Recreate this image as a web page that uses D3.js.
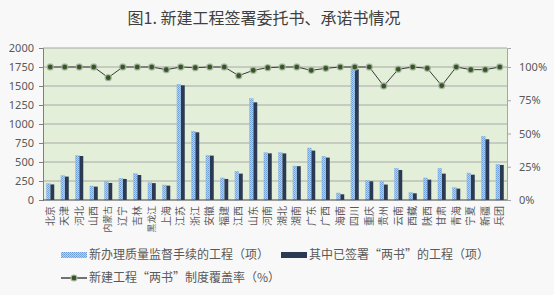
<!DOCTYPE html>
<html><head><meta charset="utf-8">
<script src="https://cdn.jsdelivr.net/npm/d3@7"></script>
<style>
html,body{margin:0;padding:0;background:#f8f8f8;}
svg{display:block;font-family:"Noto Sans CJK SC","Noto Sans",sans-serif;}
</style></head>
<body>
<svg id="chart" width="554" height="295"></svg>
<script>
const categories = ["北京","天津","河北","山西","内蒙古","辽宁","吉林","黑龙江","上海","江苏","浙江","安徽","福建","江西","山东","河南","湖北","湖南","广东","广西","海南","四川","重庆","贵州","云南","西藏","陕西","甘肃","青海","宁夏","新疆","兵团"];
const newProjects = [215,321,584,184,246,286,347,229,197,1522,904,588,290,378,1334,623,623,447,684,575,92,1738,259,242,417,97,290,417,163,355,838,470];
const signedProjects = [205,308,579,176,224,277,329,222,189,1509,891,584,277,347,1285,614,613,445,650,558,75,1720,246,203,395,88,268,347,150,333,799,461];
const coverage = [1.00,1.00,1.00,1.00,0.92,1.00,1.00,1.00,0.98,1.00,0.995,1.00,1.00,0.935,0.975,0.995,1.00,1.00,0.975,0.99,1.00,1.00,1.00,0.857,0.983,1.00,0.99,0.86,1.00,0.98,0.98,1.00];
const leftTicks = [0,250,500,750,1000,1250,1500,1750,2000];
const rightTicks = [0,0.25,0.5,0.75,1.0];
const title = "图1. 新建工程签署委托书、承诺书情况";
const legendLabels = ["新办理质量监督手续的工程（项）","其中已签署“两书”的工程（项）","新建工程“两书”制度覆盖率（%）"];

const svg = d3.select("#chart");
const L = 43, R = 507, T = 48, B = 200;
const x = d3.scaleBand().domain(categories).range([L, R]).padding(0);
const y = d3.scaleLinear().domain([0, 2000]).range([B, T]);
const y2 = d3.scaleLinear().domain([0, 2000/1750]).range([B, T]);
const textColor = "#595959";

// pattern for light bars
const defs = svg.append("defs");
const pat = defs.append("pattern").attr("id","dots").attr("width",2).attr("height",2).attr("patternUnits","userSpaceOnUse");
pat.append("rect").attr("width",2).attr("height",2).attr("fill","#b4d0f0");
pat.append("rect").attr("width",1).attr("height",1).attr("fill","#6f9fd8");
pat.append("rect").attr("x",1).attr("y",1).attr("width",1).attr("height",1).attr("fill","#7eaadf");

// title
svg.append("text").attr("x", 264).attr("y", 24).attr("text-anchor","middle")
  .attr("font-size", 16).attr("fill", "#404040").text(title);

// plot background
svg.append("rect").attr("x", L).attr("y", T).attr("width", R-L).attr("height", B-T).attr("fill", "#e3efd8");

// gridlines
svg.append("g").selectAll("line").data(leftTicks.slice(1)).join("line")
  .attr("x1", L).attr("x2", R).attr("y1", d => y(d)).attr("y2", d => y(d))
  .attr("stroke", "#a8a8a8").attr("stroke-width", 1);

// left axis
const gl = svg.append("g").attr("transform", `translate(${L},0)`)
  .call(d3.axisLeft(y).tickValues(leftTicks).tickFormat(d3.format("d")).tickSize(4).tickPadding(5));
gl.select(".domain").attr("stroke", "#7f7f7f");
gl.selectAll(".tick line").attr("stroke", "#7f7f7f");
gl.selectAll("text").attr("font-size", 11).attr("fill", textColor).attr("font-family","'Noto Sans','DejaVu Sans',sans-serif");

// right axis
const gr = svg.append("g").attr("transform", `translate(${R},0)`)
  .call(d3.axisRight(y2).tickValues(rightTicks).tickFormat(d3.format(".0%")).tickSize(4).tickPadding(8));
gr.select(".domain").attr("stroke", "#a6a6a6");
gr.selectAll(".tick line").attr("stroke", "#a6a6a6");
gr.selectAll("text").attr("font-size", 11).attr("fill", textColor).attr("font-family","'Noto Sans','DejaVu Sans',sans-serif");

// bars
const bw = 3.8;
svg.append("g").selectAll("rect").data(categories).join("rect")
  .attr("x", (d) => x(d) + x.bandwidth()/2 - bw)
  .attr("y", (d,i) => y(newProjects[i]))
  .attr("width", bw)
  .attr("height", (d,i) => B - y(newProjects[i]))
  .attr("fill", "url(#dots)").attr("stroke","#8fb4e0").attr("stroke-width",0.4);
svg.append("g").selectAll("rect").data(categories).join("rect")
  .attr("x", (d) => x(d) + x.bandwidth()/2 + 0.2)
  .attr("y", (d,i) => y(signedProjects[i]))
  .attr("width", bw)
  .attr("height", (d,i) => B - y(signedProjects[i]))
  .attr("fill", "#2b3a52");

// bottom axis
svg.append("line").attr("x1", L).attr("x2", R).attr("y1", B).attr("y2", B).attr("stroke", "#404040").attr("stroke-width", 1);

// x labels
svg.append("g").selectAll("text").data(categories).join("text")
  .attr("transform", d => `translate(${x(d) + x.bandwidth()/2},206) rotate(-90)`)
  .attr("text-anchor", "end").attr("dy", "0.35em")
  .attr("font-size", d => d.length > 2 ? 8.8 : 10)
  .attr("fill", textColor).text(d => d);

// line
const line = d3.line().x((d,i) => x(categories[i]) + x.bandwidth()/2).y(d => y2(d));
svg.append("path").datum(coverage).attr("d", line).attr("fill","none").attr("stroke","#3a3a3a").attr("stroke-width",1);
svg.append("g").selectAll("circle").data(coverage).join("circle")
  .attr("cx", (d,i) => x(categories[i]) + x.bandwidth()/2)
  .attr("cy", d => y2(d)).attr("r", 3)
  .attr("fill", "#2f5a1c").attr("stroke", "#b0b0b0").attr("stroke-opacity",0.8).attr("stroke-width", 1.4);

// legend
const lg = svg.append("g");
lg.append("rect").attr("x", 61).attr("y", 252).attr("width", 26).attr("height", 6).attr("fill","url(#dots)");
lg.append("text").attr("x", 89).attr("y", 255).attr("dy","0.35em").attr("font-size", 12).attr("fill", textColor).text(legendLabels[0]);
lg.append("rect").attr("x", 281).attr("y", 252).attr("width", 26).attr("height", 6).attr("fill","#2b3a52");
lg.append("text").attr("x", 309).attr("y", 255).attr("dy","0.35em").attr("font-size", 12).attr("fill", textColor).text(legendLabels[1]);
lg.append("line").attr("x1", 61).attr("x2", 87).attr("y1", 278).attr("y2", 278).attr("stroke","#1a1a1a").attr("stroke-width",1.2);
lg.append("circle").attr("cx", 74).attr("cy", 278).attr("r", 3).attr("fill","#2f5a1c").attr("stroke","#b0b0b0").attr("stroke-width",1.2);
lg.append("text").attr("x", 89).attr("y", 278).attr("dy","0.35em").attr("font-size", 12).attr("fill", textColor).text(legendLabels[2]);
</script>
</body></html>
